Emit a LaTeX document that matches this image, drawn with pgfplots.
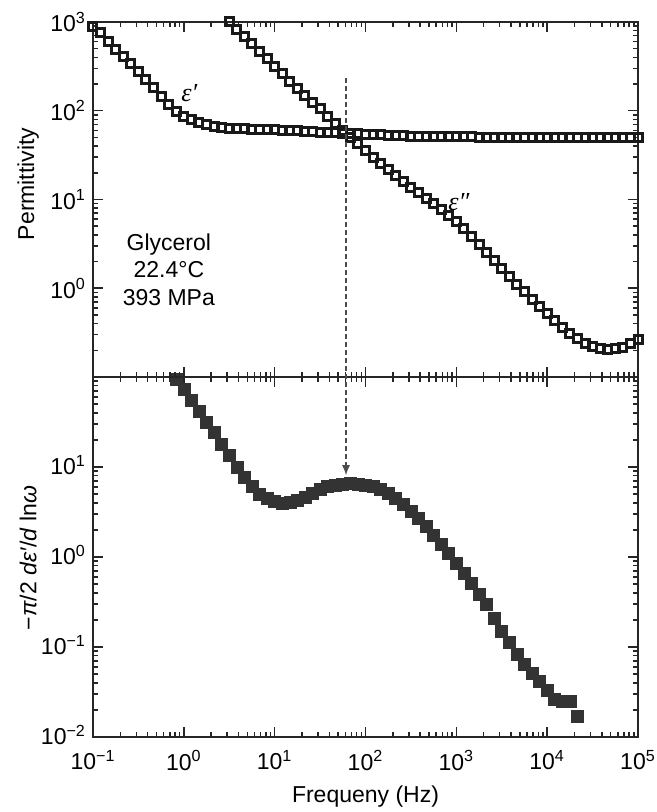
\documentclass[border=0pt]{standalone}
\usepackage{fontspec}
\setmainfont{Liberation Sans}
\newfontfamily\serifgr{Liberation Serif}
\usepackage{pgfplots}
\usepackage{pgfplotstable}
\pgfplotsset{compat=1.18}
\usetikzlibrary{arrows.meta}

\pgfplotstableread{
x e1 e2 d
0.1 891 nan nan
0.12115 759 nan nan
0.14678 603 nan nan
0.17783 490 nan nan
0.21544 407 nan nan
0.26102 339 nan nan
0.31623 275 nan nan
0.38312 224 nan nan
0.46416 182 nan nan
0.56234 145 nan nan
0.68129 117 nan nan
0.82540 97.7 nan 93.3
1 87.1 nan 72.4
1.2115 79.4 nan 55.0
1.4678 74.1 nan 41.7
1.7783 70.0 nan 31.6
2.1544 66.8 nan 24.0
2.6102 64.6 nan 18.0
3.1623 63.1 1000 13.5
3.8312 62.7 832 10.0
4.6416 62.4 692 7.59
5.6234 62.0 569 6.03
6.8129 61.7 468 5.01
8.2540 61.3 385 4.47
10 61.0 316 4.12
12.115 60.4 263 3.98
14.678 59.8 216 4.03
17.783 59.3 178 4.27
21.544 58.6 148 4.62
26.102 58.1 123 5.13
31.623 57.5 105 5.62
38.312 57.0 87.1 6.03
46.416 56.5 72.4 6.31
56.234 56.0 60.3 6.46
68.129 55.3 50.1 6.53
82.540 54.8 42.2 6.46
100 54.3 35.5 6.31
121.15 54.0 29.9 6.03
146.78 53.5 25.4 5.62
177.83 53.1 21.6 5.07
215.44 52.7 18.6 4.47
261.02 52.2 16.0 3.85
316.23 51.9 13.8 3.24
383.12 51.6 12.0 2.69
464.16 51.5 10.35 2.19
562.34 51.3 8.91 1.76
681.29 51.2 7.67 1.40
825.40 50.9 6.61 1.10
1000 50.7 5.62 0.851
1211.5 50.6 4.68 0.661
1467.8 50.6 3.85 0.513
1778.3 50.5 3.13 0.389
2154.4 50.5 2.54 0.295
2610.2 50.4 2.07 0.209
3162.3 50.4 1.68 0.151
3831.2 50.3 1.36 0.112
4641.6 50.3 1.11 0.0832
5623.4 50.2 0.912 0.0646
6812.9 50.2 0.750 0.0513
8254.0 50.1 0.617 0.0417
10000 50.1 0.513 0.0331
12115 50.1 0.432 0.0263
14678 50.0 0.363 0.0251
17783 50.0 0.309 0.0251
21544 49.9 0.269 0.0170
26102 49.9 0.240 nan
31623 49.8 0.221 nan
38312 49.8 0.209 nan
46416 49.7 0.204 nan
56234 49.7 0.207 nan
68129 49.6 0.216 nan
82540 49.6 0.237 nan
100000 49.5 0.263 nan
}\data

\begin{document}
\begin{tikzpicture}[font=\fontsize{11.5}{13.8}\selectfont]
\begin{axis}[name=bot, at={(0,0)}, anchor=south west,
  scale only axis, width=272.5pt, height=180pt,
  xmode=log, ymode=log, xmin=0.1, xmax=100000,
  axis line style={line width=1.4pt, black!85},
  tick style={line width=0.75pt, black!85},
  major tick length=5pt, minor tick length=2.5pt,
  tick align=inside,
  xtick={0.1,1,10,100,1000,10000,100000},
  minor xtick={0.2,0.3,0.4,0.5,0.6,0.7,0.8,0.9,2,3,4,5,6,7,8,9,20,30,40,50,60,70,80,90,200,300,400,500,600,700,800,900,2000,3000,4000,5000,6000,7000,8000,9000,20000,30000,40000,50000,60000,70000,80000,90000},
  ymin=0.01, ymax=100,
  ytick={0.01,0.1,1,10},
  yticklabels={10\textsuperscript{−2},10\textsuperscript{−1},10\textsuperscript{0},10\textsuperscript{1}},
  minor ytick={0.02,0.03,0.04,0.05,0.06,0.07,0.08,0.09,0.2,0.3,0.4,0.5,0.6,0.7,0.8,0.9,2,3,4,5,6,7,8,9,20,30,40,50,60,70,80,90},
  xticklabels={10\textsuperscript{−1},10\textsuperscript{0},10\textsuperscript{1},10\textsuperscript{2},10\textsuperscript{3},10\textsuperscript{4},10\textsuperscript{5}},
  xticklabel style={yshift=-3pt},
  yticklabel style={yshift=1pt},
  xlabel={Frequeny (Hz)},
  xlabel style={at={(axis description cs:0.5,-0.165)}, anchor=center},
  ylabel={−\textit{π}/2 \textit{dε′}/\textit{d} ln\textit{ω}},
  ylabel style={at={(axis description cs:-0.119,0.497)}, anchor=center},
]
\addplot[only marks, mark=square*, mark size=3.0pt, mark options={fill=black!80, draw=black!80, line width=0.3pt}] table[x=x, y=d] {\data};
\coordinate (B) at (axis cs:61,8.1);
\end{axis}
\begin{axis}[name=top, at={(0,180pt)}, anchor=south west,
  scale only axis, width=272.5pt, height=177.5pt,
  xmode=log, ymode=log, xmin=0.1, xmax=100000,
  axis line style={line width=1.4pt, black!85},
  tick style={line width=0.75pt, black!85},
  major tick length=5pt, minor tick length=2.5pt,
  tick align=inside,
  xtick={0.1,1,10,100,1000,10000,100000},
  minor xtick={0.2,0.3,0.4,0.5,0.6,0.7,0.8,0.9,2,3,4,5,6,7,8,9,20,30,40,50,60,70,80,90,200,300,400,500,600,700,800,900,2000,3000,4000,5000,6000,7000,8000,9000,20000,30000,40000,50000,60000,70000,80000,90000},
  ymin=0.1, ymax=1000,
  ytick={1,10,100,1000},
  yticklabels={10\textsuperscript{0},10\textsuperscript{1},10\textsuperscript{2},10\textsuperscript{3}},
  minor ytick={0.2,0.3,0.4,0.5,0.6,0.7,0.8,0.9,2,3,4,5,6,7,8,9,20,30,40,50,60,70,80,90,200,300,400,500,600,700,800,900},
  xticklabels={},
  ylabel={Permittivity},
  ylabel style={at={(axis description cs:-0.119,0.544)}, anchor=center},
]
\addplot[only marks, mark=square, mark size=2.0pt, mark options={draw=black!90, line width=1.5pt, fill=white}] table[x=x, y=e1] {\data};
\addplot[only marks, mark=square, mark size=2.0pt, mark options={draw=black!90, line width=1.5pt, fill=white}] table[x=x, y=e2] {\data};
\node[font=\serifgr\itshape\fontsize{13}{15}\selectfont] at (axis cs:1.15,158) {ε′};
\node[font=\serifgr\itshape\fontsize{13}{15}\selectfont] at (axis cs:1070,9.25) {ε″};
\node[align=center] at (axis cs:0.684,1.63) {Glycerol\\22.4°C\\393 MPa};
\coordinate (A) at (axis cs:61,233);
\end{axis}
\draw[black!70, line width=0.7pt, dash pattern=on 2.5pt off 1.5pt, -{Latex[length=5pt,width=4pt]}] (A) -- (B);
\pgfresetboundingbox
\path[use as bounding box] (-46.5pt,-37.5pt) rectangle (282pt,368.5pt);
\end{tikzpicture}
\end{document}
